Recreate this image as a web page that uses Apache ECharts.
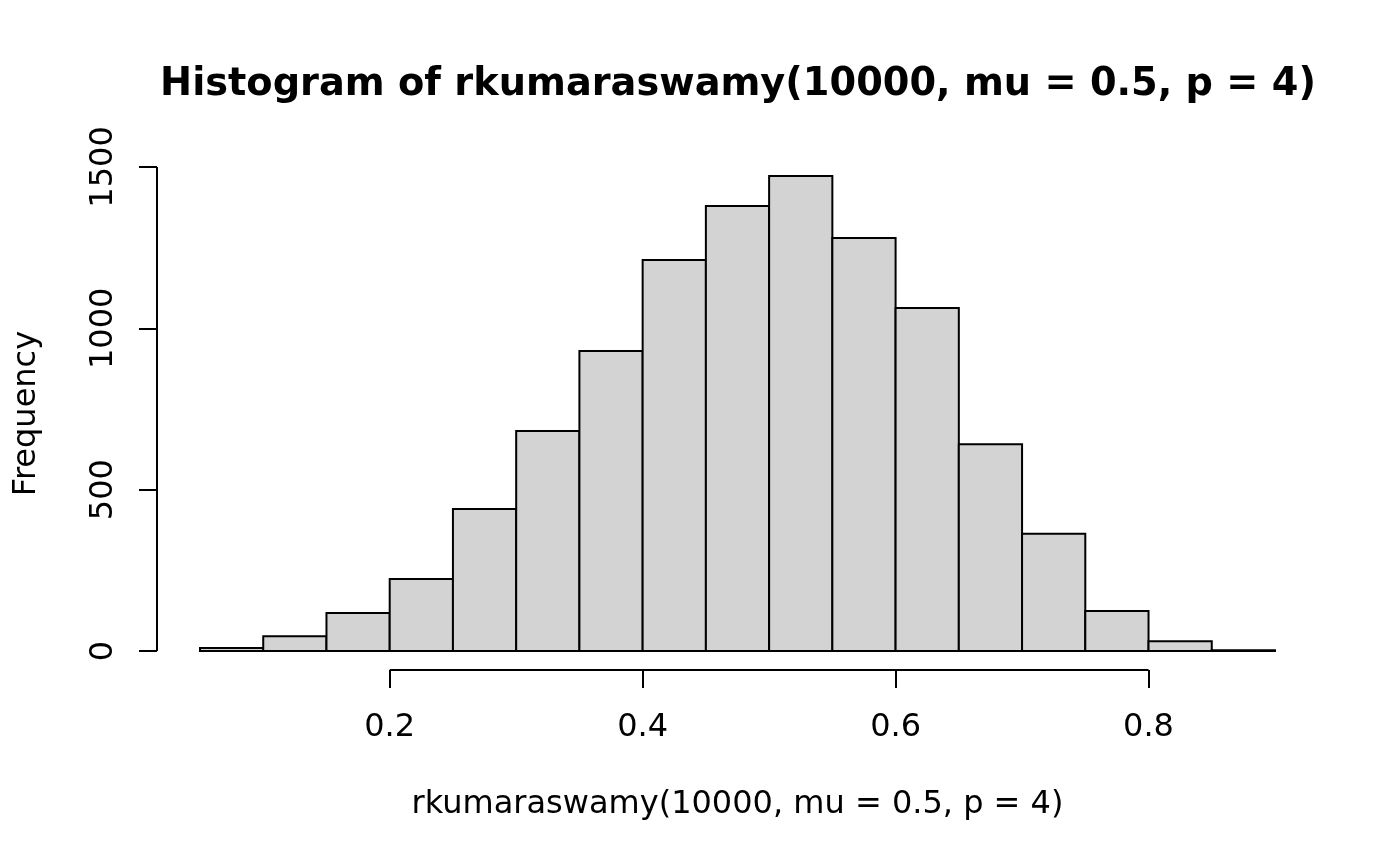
<!DOCTYPE html>
<html>
<head>
<meta charset="utf-8">
<script src="https://cdn.jsdelivr.net/npm/echarts@6/dist/echarts.min.js"></script>
<style>
  html, body { margin: 0; padding: 0; background: #fff; }
  #container { width: 1400px; height: 866px; }
</style>
</head>
<body>
<div id="container"></div>
<script type="text/javascript">
// histogram bins (left edges, width 0.05) and counts
var binStart = [0.05, 0.10, 0.15, 0.20, 0.25, 0.30, 0.35, 0.40, 0.45, 0.50, 0.55, 0.60, 0.65, 0.70, 0.75, 0.80, 0.85];
var binWidth = 0.05;
var counts = [9, 46, 118, 223, 440, 682, 930, 1212, 1379, 1472, 1280, 1063, 641, 363, 124, 30, 2];
var xTicks = [0.2, 0.4, 0.6, 0.8];
var yTicks = [0, 500, 1000, 1500];

var font = 'DejaVu Sans';

// R style range: data range stretched by 4% on each side
var xLo = binStart[0], xHi = binStart[binStart.length - 1] + binWidth;
var yHi = Math.max.apply(null, counts);
var xMin = xLo - 0.04 * (xHi - xLo), xMax = xHi + 0.04 * (xHi - xLo);
var yMin = -0.04 * yHi, yMax = yHi * 1.04;

var bars = binStart.map(function (b, i) { return [b, b + binWidth, counts[i]]; });

var myChart = echarts.init(document.getElementById('container'));
var option = {
    animation: false,
    backgroundColor: '#fff',
    title: {
        text: 'Histogram of rkumaraswamy(10000, mu = 0.5, p = 4)',
        left: 733,
        top: 61,
        textAlign: 'center',
        textStyle: { fontFamily: font, fontWeight: 'bold', fontSize: 38.3, color: '#000' }
    },
    grid: { left: 157, right: 82, top: 157, bottom: 196 },
    xAxis: {
        type: 'value',
        min: xMin,
        max: xMax,
        name: 'rkumaraswamy(10000, mu = 0.5, p = 4)',
        nameLocation: 'middle',
        nameGap: 119,
        nameTextStyle: { fontFamily: font, fontSize: 32, color: '#000', verticalAlign: 'top' },
        axisLine: { show: false, onZero: false },
        axisTick: { show: true, customValues: xTicks, length: 18, lineStyle: { color: '#000', width: 2 } },
        axisLabel: {
            customValues: xTicks, margin: 42, fontFamily: font, fontSize: 32, color: '#000',
            formatter: function (v) { return v.toFixed(1); }
        },
        splitLine: { show: false }
    },
    yAxis: {
        type: 'value',
        min: yMin,
        max: yMax,
        name: 'Frequency',
        nameLocation: 'middle',
        nameGap: 114,
        nameRotate: 90,
        nameTextStyle: { fontFamily: font, fontSize: 32, color: '#000' },
        axisLine: { show: false, onZero: false },
        axisTick: { show: true, customValues: yTicks, length: 18, lineStyle: { color: '#000', width: 2 } },
        axisLabel: {
            customValues: yTicks, rotate: 90, margin: 37, fontFamily: font, fontSize: 32, color: '#000',
            formatter: function (v) { return String(v); }
        },
        splitLine: { show: false }
    },
    series: [
        {
            name: 'counts',
            type: 'custom',
            data: bars,
            renderItem: function (params, api) {
                var p0 = api.coord([api.value(0), api.value(2)]);
                var p1 = api.coord([api.value(1), 0]);
                return {
                    type: 'rect',
                    shape: { x: p0[0], y: p0[1], width: p1[0] - p0[0], height: p1[1] - p0[1] },
                    style: { fill: '#d3d3d3', stroke: '#000', lineWidth: 2 }
                };
            }
        },
        {
            // axis lines that run only from the first to the last tick, like R
            name: 'axes',
            type: 'custom',
            clip: false,
            silent: true,
            data: [0],
            renderItem: function (params, api) {
                var cs = params.coordSys;
                var bottom = cs.y + cs.height;
                var left = cs.x;
                var xa = api.coord([xTicks[0], 0])[0];
                var xb = api.coord([xTicks[xTicks.length - 1], 0])[0];
                var ya = api.coord([xMin, yTicks[0]])[1];
                var yb = api.coord([xMin, yTicks[yTicks.length - 1]])[1];
                return {
                    type: 'group',
                    children: [
                        { type: 'line', shape: { x1: xa, y1: bottom, x2: xb, y2: bottom }, style: { stroke: '#000', lineWidth: 2 } },
                        { type: 'line', shape: { x1: left, y1: ya, x2: left, y2: yb }, style: { stroke: '#000', lineWidth: 2 } }
                    ]
                };
            }
        }
    ]
};
myChart.setOption(option);
</script>
</body>
</html>
